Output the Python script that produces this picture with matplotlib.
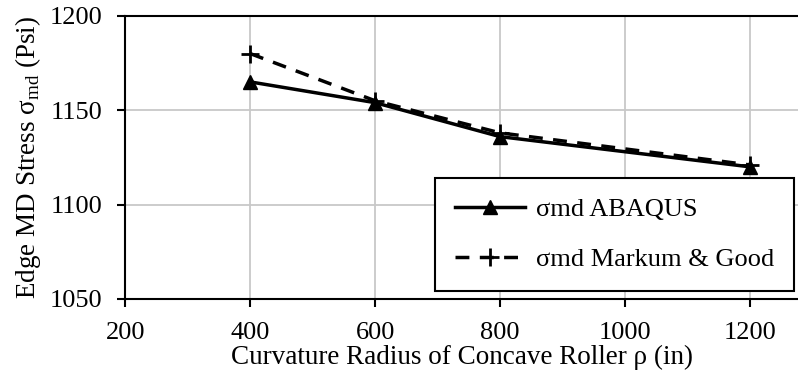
import matplotlib.pyplot as plt

plt.rcParams['font.family'] = ['Liberation Serif', 'DejaVu Serif']
plt.rcParams['mathtext.fontset'] = 'custom'
plt.rcParams['mathtext.rm'] = 'Liberation Serif'

# data
radius = [400, 600, 800, 1200]
abaqus = [1165, 1154, 1136, 1120]
markum = [1180, 1155, 1138, 1121]
x_ticks = [200, 400, 600, 800, 1000, 1200]
y_ticks = [1050, 1100, 1150, 1200]

fig = plt.figure(figsize=(7.98, 3.77), dpi=100)
ax = fig.add_axes([0.157, 0.207, 0.843, 0.751])

ax.plot(radius, abaqus, color='black', linewidth=2.5, marker='^',
        markersize=10, label='σmd ABAQUS')
ax.plot(radius, markum, color='black', linewidth=2.5, linestyle=(0, (4, 3)),
        marker='+', markersize=13, markeredgewidth=2, label='σmd Markum & Good')

ax.set_xlim(200, 1277)
ax.set_ylim(1050, 1200)
ax.set_xticks(x_ticks)
ax.set_yticks(y_ticks)
ax.grid(True, color='#c8c8c8', linewidth=1.3)
ax.set_axisbelow(True)

for side in ['left', 'bottom', 'top']:
    ax.spines[side].set_linewidth(1.5)
ax.spines['right'].set_visible(False)
ax.tick_params(axis='both', labelsize=19, width=1.5, length=5.5, direction='out', pad=11)

ax.set_xlabel('Curvature Radius of Concave Roller ρ (in)', fontsize=19.5, labelpad=1)
ax.set_ylabel('Edge MD Stress σ$_{\\rm md}$ (Psi)', fontsize=19.5, labelpad=5)

leg = ax.legend(loc='lower right', bbox_to_anchor=(0.994, 0.028), fontsize=19,
                frameon=True, fancybox=False, edgecolor='black', framealpha=1,
                handlelength=2.65, handletextpad=0.42, labelspacing=1.0,
                borderpad=0.75, borderaxespad=0)
leg.get_frame().set_linewidth(1.5)

fig.savefig('out.png', dpi=100)
